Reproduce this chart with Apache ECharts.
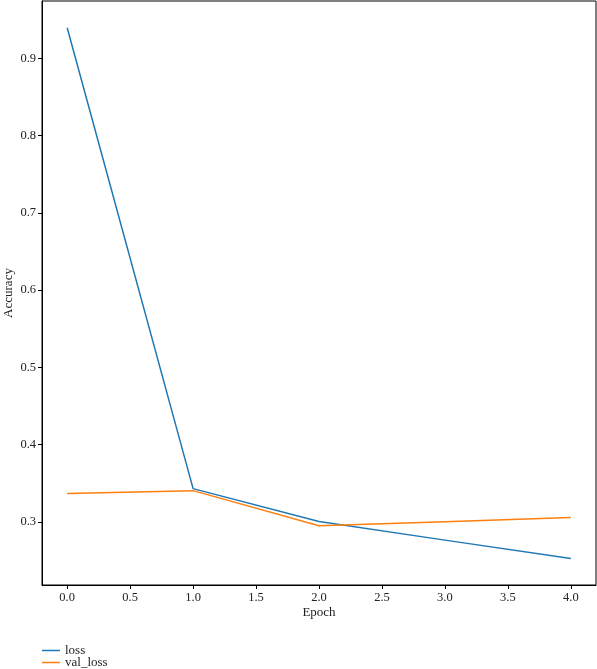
<!DOCTYPE html>
<html>
<head>
<meta charset="utf-8">
<script src="https://cdn.jsdelivr.net/npm/echarts@6/dist/echarts.min.js"></script>
<style>
  html, body { margin: 0; padding: 0; background: #fff; }
  #chart { width: 597px; height: 669px; }
</style>
</head>
<body>
<div id="chart"></div>
<script>
// values
const epochs = [0, 1, 2, 3, 4];
const loss = [0.9397, 0.343, 0.3005, 0.2763, 0.2526];
const valLoss = [0.3367, 0.3404, 0.2949, 0.3, 0.3055];
const xTicks = [0, 0.5, 1, 1.5, 2, 2.5, 3, 3.5, 4];
const yTicks = [0.3, 0.4, 0.5, 0.6, 0.7, 0.8, 0.9];
const seriesNames = ["loss", "val_loss"];

const font = "Liberation Serif";
const chart = echarts.init(document.getElementById("chart"));

// one legend box per entry, stacked like the matplotlib legend
const legendFor = (name, top) => ({
  orient: "vertical",
  left: 42,
  top: top,
  padding: 0,
  itemWidth: 18,
  itemHeight: 12,
  icon: "path://M0,5.25 H18 V6.75 H0 Z",
  textStyle: { fontFamily: font, fontSize: 13, lineHeight: 12, color: "#222" },
  data: [name],
});

chart.setOption({
  animation: false,
  textStyle: { fontFamily: font },
  grid: {
    left: 42,
    right: 1,
    top: 1,
    bottom: 84,
    outerBoundsMode: "none",
    containLabel: false,
    show: true,
    borderColor: "#000",
    borderWidth: 1,
  },
  legend: [legendFor(seriesNames[0], 644), legendFor(seriesNames[1], 656)],
  xAxis: {
    type: "value",
    min: -0.2,
    max: 4.2,
    name: "Epoch",
    nameLocation: "middle",
    nameGap: 21,
    nameMoveOverlap: false,
    nameTextStyle: { fontFamily: font, fontSize: 13, color: "#222" },
    splitLine: { show: false },
    axisLine: { onZero: false, lineStyle: { color: "#000", width: 1 } },
    axisTick: { customValues: xTicks, length: 4, lineStyle: { color: "#000" } },
    axisLabel: {
      customValues: xTicks,
      margin: 6,
      fontFamily: font,
      fontSize: 12.5,
      color: "#222",
      formatter: (v) => v.toFixed(1),
    },
  },
  yAxis: {
    type: "value",
    min: 0.2182,
    max: 0.9744,
    name: "Accuracy",
    nameLocation: "middle",
    nameRotate: 90,
    nameGap: 27,
    nameMoveOverlap: false,
    nameTextStyle: { fontFamily: font, fontSize: 13, color: "#222" },
    splitLine: { show: false },
    axisLine: { show: true, onZero: false, lineStyle: { color: "#000", width: 1 } },
    axisTick: { show: true, customValues: yTicks, length: 4, lineStyle: { color: "#000" } },
    axisLabel: {
      customValues: yTicks,
      margin: 6,
      fontFamily: font,
      fontSize: 12.5,
      color: "#222",
      formatter: (v) => v.toFixed(1),
    },
  },
  series: [
    {
      name: seriesNames[0],
      type: "line",
      data: epochs.map((e, i) => [e, loss[i]]),
      showSymbol: false,
      color: "#1f77b4",
      lineStyle: { width: 1.5 },
    },
    {
      name: seriesNames[1],
      type: "line",
      data: epochs.map((e, i) => [e, valLoss[i]]),
      showSymbol: false,
      color: "#ff7f0e",
      lineStyle: { width: 1.5 },
    },
  ],
});
</script>
</body>
</html>
